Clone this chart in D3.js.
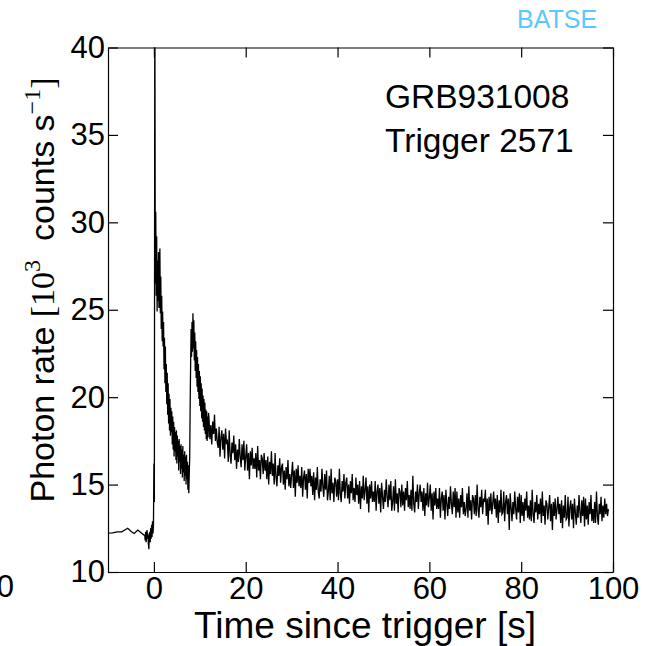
<!DOCTYPE html>
<html>
<head>
<meta charset="utf-8">
<script src="https://cdn.jsdelivr.net/npm/d3@7"></script>
<style>
  body { margin: 0; background: #fff; }
  svg { display: block; font-family: "Liberation Sans", Arial, sans-serif; }
  .axis path, .axis line { stroke: #000; stroke-width: 1.2; }
  .axis text { font-size: 31px; fill: #000; }
</style>
</head>
<body>
<svg id="chart" width="648" height="646"></svg>
<script>
/*
 */
var xTicks = [0, 20, 40, 60, 80, 100];
var yTicks = [10, 15, 20, 25, 30, 35, 40];

// pre-trigger (coarse) samples
var preTimes = [-10, -9, -8, -7, -5.7, -4.9, -4.3, -3.5, -2.8, -2.1];
var preRate  = [12.22, 12.24, 12.3, 12.3, 12.5, 12.3, 12.2, 12.4, 12.25, 12.1];

// fine samples, 0.1 s steps starting at -2.0 s
var fineStart = -2.0, fineStep = 0.1;
var fineRate = [
    12.1, 11.8, 12.3, 11.7, 12.0, 12.4, 11.9, 12.2, 11.6, 11.3,
    12.0, 12.3, 11.7, 12.5, 11.9, 12.7, 12.0, 12.9, 12.2, 12.6,
    16.2, 14.0, 45.0, 26.5, 30.6, 25.8, 29.2, 24.9, 27.8, 25.5,
    28.3, 25.1, 27.6, 28.5, 24.8, 26.9, 23.9, 25.8, 23.2, 24.9,
    22.9, 24.3, 21.6, 23.4, 20.8, 22.9, 20.3, 21.9, 19.6, 21.4,
    19.0, 20.8, 18.5, 20.2, 18.1, 19.9, 17.8, 19.4, 18.0, 19.2,
    17.3, 18.9, 17.0, 18.6, 16.6, 18.3, 16.9, 18.0, 16.4, 18.1,
    16.2, 17.8, 16.6, 17.5, 15.8, 17.6, 16.3, 17.2, 15.6, 17.3,
    15.9, 17.0, 15.4, 17.2, 15.7, 16.7, 15.2, 16.9, 15.5, 16.6,
    15.0, 16.7, 15.3, 16.3, 14.7, 16.1, 14.5, 15.6, 16.6, 19.6,
    21.9, 23.9, 22.3, 24.3, 22.6, 24.8, 22.8, 24.4, 22.1, 23.7,
    21.5, 23.2, 21.1, 22.7, 20.6, 22.3, 20.3, 21.9, 19.9, 21.5,
    19.5, 21.2, 19.2, 20.8, 18.8, 20.5, 18.6, 20.1, 18.3, 19.9,
    18.1, 19.7, 17.9, 19.3, 17.6, 19.2, 17.5, 18.9, 17.7, 19.1
];

// tail samples, 0.2 s steps starting at 12 s (one row = 2 s)
var tailStart = 12.0, tailStep = 0.2;
var tailRate = [
    18.8, 17.6, 18.4, 17.3, 18.6, 17.9, 19.0, 17.5, 18.2, 17.4,
    17.1, 18.3, 16.6, 17.7, 18.1, 17.0, 17.9, 16.5, 18.2, 17.4,
    17.5, 16.3, 18.1, 16.7, 16.2, 17.4, 16.8, 17.8, 16.4, 17.3,
    15.9, 17.0, 16.3, 17.6, 16.6, 16.0, 17.3, 16.4, 17.5, 15.8,
    16.6, 17.3, 15.8, 16.8, 15.3, 16.9, 16.1, 17.1, 15.9, 16.5,
    15.9, 16.8, 15.4, 17.2, 15.8, 16.4, 15.3, 16.7, 16.5, 15.6,
    16.8, 15.8, 16.4, 15.3, 16.6, 15.0, 16.3, 15.6, 16.9, 15.5,
    16.2, 15.0, 16.8, 15.4, 14.9, 16.1, 15.5, 16.5, 15.1, 16.0,
    16.2, 15.0, 15.8, 14.7, 16.0, 15.3, 16.4, 14.9, 15.6, 14.8,
    15.6, 16.3, 14.8, 15.8, 14.3, 15.9, 15.1, 16.1, 14.9, 15.5,
    14.8, 16.0, 14.3, 15.4, 15.8, 14.7, 15.6, 14.2, 15.9, 15.1,
    15.9, 14.9, 15.5, 14.4, 15.7, 14.1, 15.4, 14.7, 16.0, 14.6,
    14.2, 15.3, 14.6, 15.9, 14.9, 14.3, 15.6, 14.7, 15.8, 14.1,
    14.6, 15.5, 14.1, 15.9, 14.5, 15.1, 14.0, 15.4, 15.2, 14.3,
    15.3, 14.1, 15.9, 14.5, 14.0, 15.2, 14.6, 15.6, 14.2, 15.1,
    15.4, 14.2, 15.0, 13.9, 15.2, 14.5, 15.6, 14.1, 14.8, 14.0,
    15.4, 14.4, 15.0, 13.9, 15.2, 13.6, 14.9, 14.2, 15.5, 14.1,
    14.7, 15.4, 13.9, 14.9, 13.4, 15.0, 14.2, 15.2, 14.0, 14.6,
    14.0, 15.2, 13.5, 14.6, 15.0, 13.9, 14.8, 13.4, 15.1, 14.3,
    13.6, 14.7, 14.0, 15.3, 14.3, 13.7, 15.0, 14.1, 15.2, 13.5,
    14.0, 14.9, 13.5, 15.3, 13.9, 14.5, 13.4, 14.8, 14.6, 13.7,
    15.0, 13.8, 14.6, 13.5, 14.8, 14.1, 15.2, 13.7, 14.4, 13.6,
    14.7, 13.5, 15.5, 13.9, 13.4, 14.6, 14.0, 15.0, 13.6, 14.5,
    15.0, 14.0, 14.6, 13.5, 14.8, 13.2, 14.5, 13.8, 15.1, 13.7,
    14.3, 15.0, 13.5, 14.5, 13.0, 14.6, 13.8, 14.8, 13.6, 14.2,
    13.6, 14.8, 13.1, 14.2, 14.6, 13.5, 14.4, 13.0, 14.7, 13.9,
    13.2, 14.3, 13.6, 14.9, 13.9, 13.3, 14.6, 13.7, 14.8, 13.1,
    14.6, 13.4, 14.2, 13.1, 14.4, 13.7, 14.8, 13.3, 14.0, 13.2,
    13.6, 14.5, 13.1, 14.9, 13.5, 14.1, 13.0, 14.4, 14.2, 13.3,
    14.4, 13.2, 15.0, 13.6, 13.1, 14.3, 13.7, 14.7, 13.3, 14.2,
    14.0, 14.7, 13.2, 14.2, 12.7, 14.3, 13.5, 14.5, 13.3, 13.9,
    14.6, 13.6, 14.2, 13.1, 14.4, 12.8, 14.1, 13.4, 14.7, 13.3,
    13.4, 14.6, 12.9, 14.0, 14.4, 13.3, 14.2, 12.4, 14.5, 13.7,
    12.9, 14.0, 13.3, 14.6, 13.6, 13.0, 14.3, 13.4, 14.5, 12.8,
    14.4, 13.2, 14.0, 12.9, 14.2, 13.5, 14.6, 13.1, 13.8, 13.0,
    14.1, 12.9, 14.7, 13.3, 12.8, 14.0, 13.4, 14.4, 13.0, 13.9,
    13.3, 14.2, 12.8, 14.6, 13.2, 13.8, 12.7, 14.1, 13.9, 13.0,
    13.7, 14.4, 12.9, 13.9, 12.4, 14.0, 13.2, 14.2, 13.0, 13.6,
    14.3, 13.3, 13.9, 12.8, 14.1, 12.5, 13.8, 13.1, 14.4, 13.0,
    13.1, 14.3, 12.6, 13.7, 14.1, 13.0, 13.9, 12.5, 14.2, 13.4,
    12.7, 13.8, 13.1, 14.4, 13.4, 12.8, 14.1, 13.2, 14.3, 12.6,
    14.2, 13.0, 13.8, 12.7, 14.0, 13.3, 14.4, 12.9, 13.6, 12.8,
    14.0, 12.8, 14.6, 13.2, 12.7, 13.9, 13.3, 14.3, 12.9, 13.8,
    13.1, 14.2, 13.3, 13.9, 13.2, 13.6
];


/*
 *** Build the sample list
 */
function buildSeries(){
    var pts = [];
    for(var i = 0; i < preTimes.length; i++){
        pts.push([preTimes[i], preRate[i]]);
    }
    for(i = 0; i < fineRate.length; i++){
        pts.push([fineStart + i*fineStep, fineRate[i]]);
    }
    for(i = 0; i < tailRate.length; i++){
        pts.push([tailStart + i*tailStep, tailRate[i]]);
    }
    return pts;
}


var svg = d3.select("#chart");
var plotLeft = 108, plotRight = 613, plotTop = 47.5, plotBottom = 572;

var x = d3.scaleLinear().domain([-10, 100]).range([plotLeft, plotRight]);
var y = d3.scaleLinear().domain([10, 40]).range([plotBottom, plotTop]);

svg.append("clipPath").attr("id", "plotClip")
    .append("rect")
    .attr("x", plotLeft).attr("y", plotTop)
    .attr("width", plotRight - plotLeft).attr("height", plotBottom - plotTop);

var line = d3.line()
    .x(function(d){ return x(d[0]); })
    .y(function(d){ return y(d[1]); });

svg.append("path")
    .datum(buildSeries())
    .attr("clip-path", "url(#plotClip)")
    .attr("fill", "none")
    .attr("stroke", "#000")
    .attr("stroke-width", 1.3)
    .attr("d", line);

// axes, ticks pointing inward on all four sides
svg.append("g").attr("class", "axis")
    .attr("transform", "translate(0," + plotBottom + ")")
    .call(d3.axisBottom(x).tickValues(xTicks).tickSizeInner(-10).tickSizeOuter(0).tickPadding(5));

svg.append("g").attr("class", "axis")
    .attr("transform", "translate(0," + plotTop + ")")
    .call(d3.axisTop(x).tickValues(xTicks).tickSizeInner(-10).tickSizeOuter(0).tickFormat(""));

svg.append("g").attr("class", "axis")
    .attr("transform", "translate(" + plotLeft + ",0)")
    .call(d3.axisLeft(y).tickValues(yTicks).tickSizeInner(-10).tickSizeOuter(0).tickPadding(3));

svg.append("g").attr("class", "axis")
    .attr("transform", "translate(" + plotRight + ",0)")
    .call(d3.axisRight(y).tickValues(yTicks).tickSizeInner(-10).tickSizeOuter(0).tickFormat(""));

// leftover label of the neighbouring panel
svg.append("text")
    .attr("x", 14).attr("y", 597)
    .attr("text-anchor", "end")
    .attr("font-size", 31)
    .text("100");

// axis titles
svg.append("text")
    .attr("x", 365).attr("y", 638)
    .attr("text-anchor", "middle")
    .attr("font-size", 37)
    .text("Time since trigger [s]");

var yLabel = svg.append("text")
    .attr("transform", "translate(54,290) rotate(-90)")
    .attr("text-anchor", "middle")
    .attr("font-size", 34);
yLabel.append("tspan").text("Photon rate ");
yLabel.append("tspan").attr("font-family", "Liberation Serif, Times New Roman, serif").text("[10");
yLabel.append("tspan").attr("font-family", "Liberation Serif, Times New Roman, serif")
    .attr("font-size", 24).attr("dy", -14).text("3");
yLabel.append("tspan").attr("dy", 14).text("\u00a0 counts s");
yLabel.append("tspan").attr("font-family", "Liberation Serif, Times New Roman, serif")
    .attr("font-size", 24).attr("dy", -14).text("\u22121");
yLabel.append("tspan").attr("font-family", "Liberation Serif, Times New Roman, serif")
    .attr("dy", 14).text("]");

// annotation
svg.append("text").attr("x", 385).attr("y", 108).attr("font-size", 33.5).text("GRB931008");
svg.append("text").attr("x", 385).attr("y", 152).attr("font-size", 33.5).text("Trigger 2571");

svg.append("text")
    .attr("x", 517).attr("y", 28)
    .attr("font-size", 25)
    .attr("fill", "#5ac8fa")
    .text("BATSE");
</script>
</body>
</html>
